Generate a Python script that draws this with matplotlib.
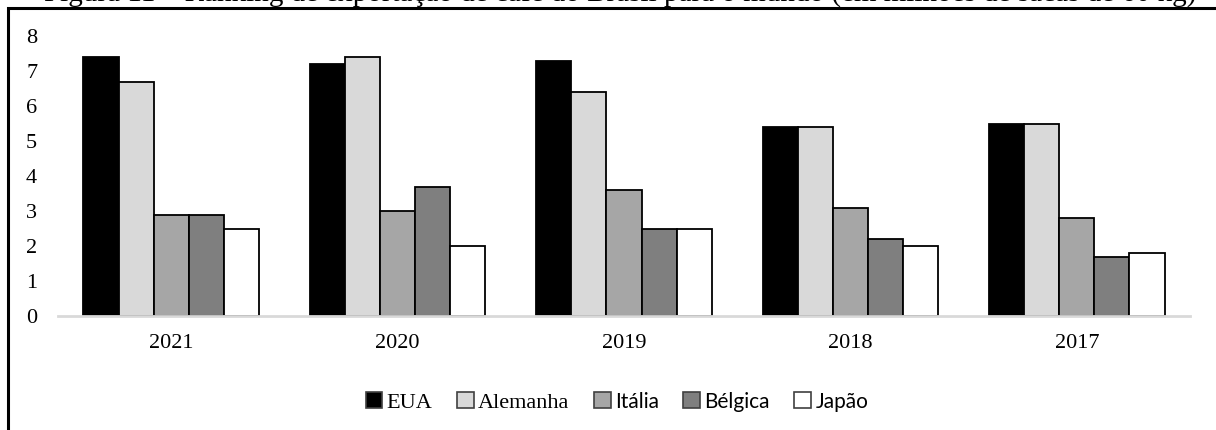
import matplotlib.pyplot as plt
import numpy as np
from matplotlib.patches import Patch, Rectangle

# Ranking de exportação de café (milhões de sacas de 60 kg)
anos = ["2021", "2020", "2019", "2018", "2017"]
paises = ["EUA", "Alemanha", "Itália", "Bélgica", "Japão"]
eua = [7.4, 7.2, 7.3, 5.4, 5.5]
alemanha = [6.7, 7.4, 6.4, 5.4, 5.5]
italia = [2.9, 3.0, 3.6, 3.1, 2.8]
belgica = [2.9, 3.7, 2.5, 2.2, 1.7]
japao = [2.5, 2.0, 2.5, 2.0, 1.8]

series = [eua, alemanha, italia, belgica, japao]
cores = ["#000000", "#d9d9d9", "#a6a6a6", "#7f7f7f", "#ffffff"]
serif = "Liberation Serif"
sans = "Lato"

fig = plt.figure(figsize=(12.16, 4.30), dpi=100)
ax = fig.add_axes([58 / 1216, 1 - 316 / 430, 1132 / 1216, 280 / 430])

x = np.arange(len(anos))
w = 0.155
for i, (vals, cor) in enumerate(zip(series, cores)):
    ax.bar(x + (i - 2) * w, vals, width=w, color=cor, edgecolor="black",
           linewidth=1.3, label=paises[i])

ax.set_xlim(-0.5, 4.5)
ax.set_ylim(0, 8)
ax.set_yticks(range(0, 9))
ax.set_xticks(x)
ax.set_xticklabels(anos)
ax.tick_params(length=0, labelsize=16)
ax.tick_params(axis="x", pad=13)
ax.tick_params(axis="y", pad=15)
for lab in ax.get_xticklabels() + ax.get_yticklabels():
    lab.set_fontfamily(serif)
for s in ["top", "right", "left"]:
    ax.spines[s].set_visible(False)
ax.spines["bottom"].set_color("#d9d9d9")
ax.spines["bottom"].set_linewidth(2)

handles = [Patch(facecolor=c, edgecolor="#404040", linewidth=1.2) for c in cores]
leg = fig.legend(handles, paises, loc="center", bbox_to_anchor=(617 / 1216, 1 - 402 / 430),
                 ncol=5, frameon=False, fontsize=16, handlelength=0.75, handleheight=0.75,
                 handletextpad=0.2, columnspacing=1.1)
for i, t in enumerate(leg.get_texts()):
    if i < 2:
        t.set_fontfamily(serif)
    else:
        t.set_fontfamily(sans)
        t.set_fontsize(15)

# moldura do gráfico (cortada na imagem)
fig.patches.append(Rectangle((8 / 1216, -0.2), 1.2, 1 - 8 / 430 + 0.2,
                             transform=fig.transFigure, fill=False,
                             edgecolor="black", linewidth=2.2, zorder=5))

fig.text(620 / 1216, 1 - 1 / 430,
         "Figura 11 – Ranking de exportação de café do Brasil para o mundo (em milhões de sacas de 60 kg)",
         ha="center", va="baseline", fontsize=21, fontfamily=serif)

fig.savefig("out.png", dpi=100)
